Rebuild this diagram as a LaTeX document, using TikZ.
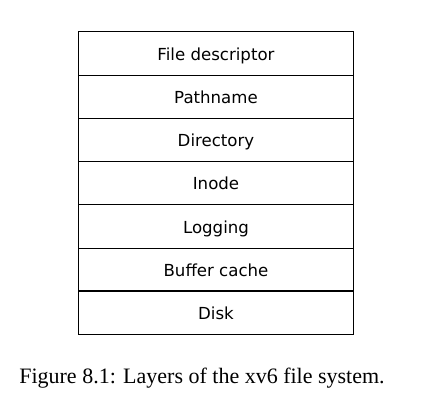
\documentclass[tikz,border=0pt]{standalone}
\usepackage{fontspec}
\setmainfont{Liberation Serif}
\newfontfamily\labelfont{DejaVu Sans}
\begin{document}
\begin{tikzpicture}[x=1pt,y=-1pt,
  layer/.style={minimum width=274pt,minimum height=43.14pt,inner sep=0pt,text height=14pt,text depth=0pt,font=\labelfont\fontsize{16.6}{19}\selectfont},
  thin line/.style={line width=0.6pt},
  thick line/.style={line width=1.2pt}]
\useasboundingbox (0,0) rectangle (432,406);
\node[layer] (fd) at (216,53.6) {File descriptor};
\node[layer] (pn) at (216,96.7) {Pathname};
\node[layer] (dir) at (216,139.9) {Directory};
\node[layer] (ino) at (216,183.0) {Inode};
\node[layer] (log) at (216,226.1) {Logging};
\node[layer] (buf) at (216,269.3) {Buffer cache};
\node[layer] (disk) at (216,312.4) {Disk};
\draw[thin line] (fd.south west) -- (fd.south east);
\draw[thin line] (pn.south west) -- (pn.south east);
\draw[thin line] (dir.south west) -- (dir.south east);
\draw[thin line] (ino.south west) -- (ino.south east);
\draw[thin line] (log.south west) -- (log.south east);
\draw[thick line] (buf.south west) -- (buf.south east);
\draw[thick line] (fd.north west) rectangle (disk.south east);
\node[font=\fontsize{22}{26}\selectfont] (cap) at (202,378) {Figure 8.1: Layers of the xv6 file system.};
\end{tikzpicture}
\end{document}
